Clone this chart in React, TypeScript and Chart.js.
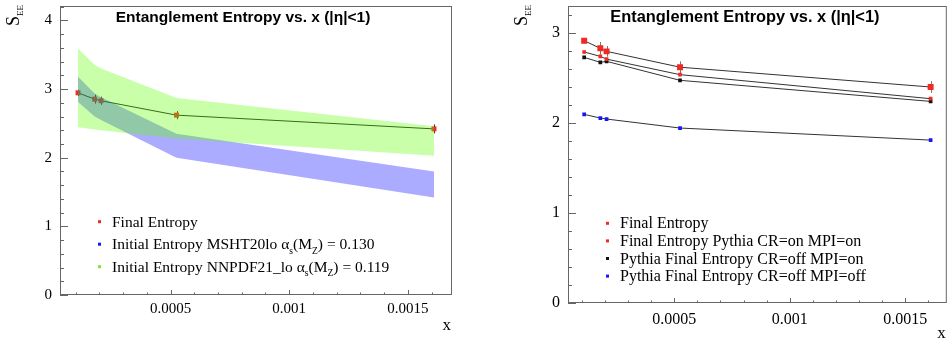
import React, { useEffect, useRef } from "react";
import { Chart, registerables } from "chart.js";

Chart.register(...registerables);

// ---------------- data ----------------
const X_VALUES = [0.00011, 0.00018, 0.000207, 0.000525, 0.00161];

// left panel
const LEFT_FINAL = [2.945, 2.853, 2.83, 2.62, 2.42];
const LEFT_FINAL_ERR = [0.045, 0.065, 0.06, 0.06, 0.065];
const MSHT_UPPER = [3.18, 2.935, 2.88, 2.35, 1.8];
const MSHT_LOWER = [2.81, 2.6, 2.55, 2.0, 1.42];
const NNPDF_UPPER = [3.59, 3.35, 3.3, 2.87, 2.46];
const NNPDF_LOWER = [2.445, 2.41, 2.4, 2.28, 2.03];

// right panel
const RIGHT_FINAL = [2.914, 2.83, 2.796, 2.62, 2.4];
const RIGHT_FINAL_ERR = [0.03, 0.07, 0.06, 0.065, 0.065];
const PYTHIA_CR_ON_MPI_ON = [2.789, 2.74, 2.71, 2.537, 2.27];
const PYTHIA_CR_OFF_MPI_ON = [2.729, 2.674, 2.685, 2.474, 2.24];
const PYTHIA_CR_OFF_MPI_OFF = [2.096, 2.055, 2.044, 1.944, 1.81];

// axes
const X_TICKS = [0.0005, 0.001, 0.0015];
const X_TICK_LABELS = ["0.0005", "0.001", "0.0015"];
const Y_TICKS_LEFT = [0, 1, 2, 3, 4];
const Y_TICKS_RIGHT = [0, 1, 2, 3];
const TITLE = "Entanglement Entropy vs. x (|η|<1)";
const X_TITLE = "x";
const Y_TITLE_MAIN = "S";
const Y_TITLE_SUB = "EE";

type Seg = { t: string; sub?: boolean };
type LegendItem = { color: string; segs: Seg[] };

const RED = "#ee2a22";
const BLUE = "#1717f5";
const BLACK = "#111111";
const GREEN_MARK = "#86e03a";

const LEFT_LEGEND: LegendItem[] = [
  { color: RED, segs: [{ t: "Final Entropy" }] },
  {
    color: BLUE,
    segs: [
      { t: "Initial Entropy MSHT20lo α" },
      { t: "s", sub: true },
      { t: "(M" },
      { t: "Z", sub: true },
      { t: ") = 0.130" },
    ],
  },
  {
    color: GREEN_MARK,
    segs: [
      { t: "Initial Entropy NNPDF21_lo α" },
      { t: "s", sub: true },
      { t: "(M" },
      { t: "Z", sub: true },
      { t: ") = 0.119" },
    ],
  },
];

const RIGHT_LEGEND: LegendItem[] = [
  { color: RED, segs: [{ t: "Final Entropy" }] },
  { color: RED, segs: [{ t: "Final Entropy Pythia CR=on MPI=on" }] },
  { color: BLACK, segs: [{ t: "Pythia Final Entropy CR=off MPI=on" }] },
  { color: BLUE, segs: [{ t: "Pythia Final Entropy CR=off MPI=off" }] },
];

const SERIF = '"Liberation Serif", "Times New Roman", serif';
const SANS = '"Liberation Sans", Arial, sans-serif';
const H = 342;

const pts = (ys: number[]) => X_VALUES.map((x, i) => ({ x, y: ys[i] }));

interface ErrBar {
  values: number[];
  errors: number[];
  color: string;
}

interface PanelSpec {
  id: string;
  width: number;
  area: { left: number; right: number; top: number; bottom: number };
  xMin: number;
  xMax: number;
  yMax: number;
  yTicks: number[];
  tickFont: number;
  titleFont: number;
  xTickPad: number;
  legendFont: number;
  legend: LegendItem[];
  legendTop: number;
  legendStep: number;
  datasets: any[];
  errorBars: ErrBar[];
}

function drawRich(ctx: CanvasRenderingContext2D, segs: Seg[], x: number, y: number, size: number) {
  let cx = x;
  for (const s of segs) {
    const fs = s.sub ? size * 0.62 : size;
    ctx.font = `${fs}px ${SERIF}`;
    ctx.fillText(s.t, cx, s.sub ? y + size * 0.3 : y);
    cx += ctx.measureText(s.t).width;
  }
  return cx - x;
}

function makePlugin(spec: PanelSpec) {
  return {
    id: "rootStyle_" + spec.id,
    beforeDatasetsDraw(chart: any) {
      const ctx: CanvasRenderingContext2D = chart.ctx;
      const xs = chart.scales.x;
      const ys = chart.scales.y;
      ctx.save();
      ctx.lineWidth = 1;
      for (const eb of spec.errorBars) {
        ctx.strokeStyle = eb.color;
        eb.values.forEach((v, i) => {
          const px = Math.round(xs.getPixelForValue(X_VALUES[i])) + 0.5;
          ctx.beginPath();
          ctx.moveTo(px, ys.getPixelForValue(v + eb.errors[i]));
          ctx.lineTo(px, ys.getPixelForValue(v - eb.errors[i]));
          ctx.stroke();
        });
      }
      ctx.restore();
    },
    afterDraw(chart: any) {
      const ctx: CanvasRenderingContext2D = chart.ctx;
      const xs = chart.scales.x;
      const ys = chart.scales.y;
      const { left, right, top, bottom } = chart.chartArea;
      ctx.save();
      // frame
      ctx.strokeStyle = "#666";
      ctx.lineWidth = 1;
      ctx.strokeRect(left + 0.5, top + 0.5, right - left - 1, bottom - top - 1);
      // y ticks (inward)
      ctx.beginPath();
      for (let k = 0; k * 0.2 <= spec.yMax + 1e-9; k++) {
        const v = Math.round(k * 2) / 10;
        const py = Math.round(ys.getPixelForValue(v)) + 0.5;
        const len = k % 5 === 0 ? 8 : 4;
        ctx.moveTo(left, py);
        ctx.lineTo(left + len, py);
      }
      // x ticks (inward)
      for (let k = 1; k * 0.0001 <= spec.xMax; k++) {
        const v = k * 0.0001;
        if (v < spec.xMin) continue;
        const px = Math.round(xs.getPixelForValue(v)) + 0.5;
        const len = k % 5 === 0 ? 5 : 2.5;
        ctx.moveTo(px, bottom);
        ctx.lineTo(px, bottom - len);
      }
      ctx.stroke();

      // title
      ctx.fillStyle = "#000";
      ctx.font = `bold ${spec.titleFont}px ${SANS}`;
      ctx.textAlign = "center";
      ctx.textBaseline = "alphabetic";
      ctx.fillText(TITLE, left + 0.467 * (right - left), 21.5);

      // x title
      ctx.font = `17px ${SERIF}`;
      ctx.textAlign = "right";
      ctx.fillText(X_TITLE, right - 1, bottom + 34.5);

      // y title (rotated)
      ctx.save();
      ctx.translate(left - 41, top - 1);
      ctx.rotate(-Math.PI / 2);
      ctx.textAlign = "left";
      ctx.font = `18px ${SERIF}`;
      const wS = ctx.measureText(Y_TITLE_MAIN).width;
      ctx.font = `9px ${SERIF}`;
      const wE = ctx.measureText(Y_TITLE_SUB).width;
      const start = -(wS + wE);
      ctx.font = `18px ${SERIF}`;
      ctx.fillText(Y_TITLE_MAIN, start, 0);
      ctx.font = `9px ${SERIF}`;
      ctx.fillText(Y_TITLE_SUB, start + wS, 4);
      ctx.restore();

      // legend
      ctx.textAlign = "left";
      spec.legend.forEach((item, i) => {
        const cy = spec.legendTop + i * spec.legendStep;
        ctx.fillStyle = item.color;
        ctx.fillRect(left + 38, cy - 1.5, 3, 3);
        ctx.fillStyle = "#000";
        drawRich(ctx, item.segs, left + 52, cy + 5, spec.legendFont);
      });
      ctx.restore();
    },
  };
}

function buildConfig(spec: PanelSpec): any {
  const a = spec.area;
  return {
    type: "line",
    data: { datasets: spec.datasets },
    options: {
      responsive: false,
      animation: false,
      devicePixelRatio: 1,
      events: [],
      layout: { padding: { left: 0, top: a.top, right: spec.width - a.right, bottom: 0 } },
      plugins: { legend: { display: false }, tooltip: { enabled: false }, title: { display: false } },
      scales: {
        x: {
          type: "linear",
          min: spec.xMin,
          max: spec.xMax,
          grid: { display: false, drawTicks: false },
          border: { display: false },
          afterBuildTicks: (s: any) => {
            s.ticks = X_TICKS.map((v) => ({ value: v }));
          },
          afterFit: (s: any) => {
            s.height = H - a.bottom;
            s.paddingLeft = 0;
            s.paddingRight = 0;
          },
          ticks: {
            autoSkip: false,
            maxRotation: 0,
            padding: spec.xTickPad,
            color: "#000",
            font: { family: SERIF, size: spec.tickFont },
            callback: (v: number) => {
              const i = X_TICKS.findIndex((t) => Math.abs(t - v) < 1e-9);
              return i >= 0 ? X_TICK_LABELS[i] : "";
            },
          },
        },
        y: {
          type: "linear",
          min: 0,
          max: spec.yMax,
          grid: { display: false, drawTicks: false },
          border: { display: false },
          afterBuildTicks: (s: any) => {
            s.ticks = spec.yTicks.map((v) => ({ value: v }));
          },
          afterFit: (s: any) => {
            s.width = a.left;
            s.paddingTop = 0;
            s.paddingBottom = 0;
          },
          ticks: {
            padding: 8,
            color: "#000",
            font: { family: SERIF, size: spec.tickFont },
            callback: (v: number) => String(v),
          },
        },
      },
    },
    plugins: [makePlugin(spec)],
  };
}

const band = (data: number[], color: string, fill: any) => ({
  data: pts(data),
  borderColor: "rgba(0,0,0,0)",
  borderWidth: 0,
  pointRadius: 0,
  backgroundColor: color,
  fill,
});

const series = (data: number[], color: string, radius: number, line: string) => ({
  data: pts(data),
  borderColor: line,
  borderWidth: 1,
  pointStyle: "rect",
  pointRadius: radius,
  pointBackgroundColor: color,
  pointBorderWidth: 0,
  fill: false,
  tension: 0,
});

const GREEN_FILL = "rgba(93,255,0,0.34)";
const BLUE_FILL = "rgba(0,0,255,0.33)";

const LEFT_SPEC: PanelSpec = {
  id: "left",
  width: 475,
  area: { left: 60, right: 452, top: 6, bottom: 295 },
  xMin: 0.000034,
  xMax: 0.001686,
  yMax: 4.21,
  yTicks: Y_TICKS_LEFT,
  tickFont: 15,
  titleFont: 15.5,
  xTickPad: 5,
  legendFont: 15.5,
  legend: LEFT_LEGEND,
  legendTop: 221.7,
  legendStep: 22.5,
  datasets: [
    band(NNPDF_UPPER, GREEN_FILL, "+1"),
    band(NNPDF_LOWER, "rgba(0,0,0,0)", false),
    band(MSHT_UPPER, BLUE_FILL, "+1"),
    band(MSHT_LOWER, "rgba(0,0,0,0)", false),
    series(LEFT_FINAL, RED, 3.5, "#222"),
  ],
  errorBars: [{ values: LEFT_FINAL, errors: LEFT_FINAL_ERR, color: "#333" }],
};

const RIGHT_SPEC: PanelSpec = {
  id: "right",
  width: 476,
  area: { left: 93, right: 472, top: 6, bottom: 303 },
  xMin: 0.00004,
  xMax: 0.00168,
  yMax: 3.3,
  yTicks: Y_TICKS_RIGHT,
  tickFont: 16,
  titleFont: 16.4,
  xTickPad: 7,
  legendFont: 16,
  legend: RIGHT_LEGEND,
  legendTop: 223.3,
  legendStep: 17.6,
  datasets: [
    series(RIGHT_FINAL, RED, 4.2, "#333"),
    series(PYTHIA_CR_ON_MPI_ON, RED, 2.6, "#333"),
    series(PYTHIA_CR_OFF_MPI_ON, BLACK, 2.6, "#333"),
    series(PYTHIA_CR_OFF_MPI_OFF, BLUE, 2.6, "#333"),
  ],
  errorBars: [{ values: RIGHT_FINAL, errors: RIGHT_FINAL_ERR, color: "#777" }],
};

function Panel({ spec, left }: { spec: PanelSpec; left: number }) {
  const ref = useRef<HTMLCanvasElement>(null);
  useEffect(() => {
    const chart = new Chart(ref.current as HTMLCanvasElement, buildConfig(spec));
    return () => chart.destroy();
  }, [spec]);
  return (
    <canvas
      ref={ref}
      width={spec.width}
      height={H}
      style={{ position: "absolute", left, top: 0, width: spec.width, height: H }}
    />
  );
}

export default function App() {
  return (
    <div style={{ position: "absolute", left: 0, top: 0, width: 951, height: H, background: "#fff", overflow: "hidden" }}>
      <Panel spec={LEFT_SPEC} left={0} />
      <Panel spec={RIGHT_SPEC} left={475} />
    </div>
  );
}
